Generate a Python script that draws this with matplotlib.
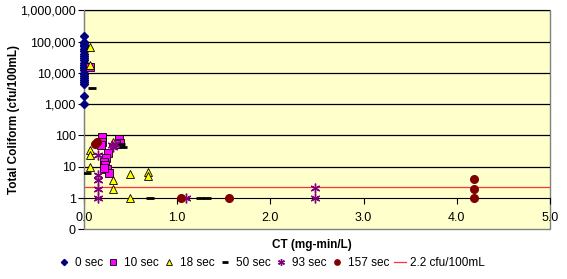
import numpy as np
import matplotlib.pyplot as plt

plt.rcParams['font.family'] = ['Liberation Sans', 'DejaVu Sans']

# 0 sec
ct_0 = [0, 0, 0, 0, 0, 0, 0, 0, 0, 0, 0, 0, 0, 0, 0, 0, 0, 0, 0, 0, 0, 0, 0, 0, 0]
tc_0 = [1000, 1800, 4500, 5000, 6000, 7000, 8000, 9000, 10000, 12000, 14000, 16000,
        18000, 20000, 25000, 30000, 35000, 40000, 50000, 60000, 70000, 80000, 90000,
        100000, 150000]
# 10 sec
ct_10 = [0.07, 0.196, 0.19, 0.18, 0.38, 0.386, 0.34, 0.26, 0.236, 0.22, 0.225, 0.25, 0.27, 0.22]
tc_10 = [15000, 87, 63, 49, 75, 56, 55, 27, 19, 14, 11, 8.3, 6.5, 9]
# 18 sec
ct_18 = [0.064, 0.07, 0.064, 0.064, 0.064, 0.31, 0.315, 0.315, 0.49, 0.49, 0.69, 0.69]
tc_18 = [68000, 18000, 34, 24, 10, 63, 3.8, 1.9, 5.8, 1, 6.9, 5.2]
# 50 sec
ct_50 = [0.09, 0.03, 0.40, 0.42, 0.71, 1.24, 1.32]
tc_50 = [3200, 6.5, 55, 42, 1, 1, 1]
# 93 sec
ct_93 = [0.154, 0.154, 0.154, 0.154, 0.154, 0.30, 0.31, 0.33, 1.10, 2.48, 2.48]
tc_93 = [24, 5.4, 3.8, 2, 1, 50, 42, 52, 1, 2.1, 1]
# 157 sec
ct_157 = [0.12, 0.14, 1.04, 1.56, 4.18, 4.18, 4.18]
tc_157 = [55, 60, 1, 1, 4, 2, 1]

limit = 2.2

y_ticks = [0.1, 1, 10, 100, 1000, 10000, 100000, 1000000]
y_labels = ['0', '1', '10', '100', '1,000', '10,000', '100,000', '1,000,000']
x_ticks = [0.0, 1.0, 2.0, 3.0, 4.0, 5.0]

fig = plt.figure(figsize=(5.67, 2.79), dpi=100)
ax = fig.add_axes([0.148, 0.178, 0.822, 0.785])
ax.set_facecolor('#FFFFCC')
ax.patch.set_edgecolor('#808080')
ax.patch.set_linewidth(1.0)

ax.set_yscale('log')
ax.set_ylim(0.1, 1000000)
ax.set_xlim(0, 5)

for g in [10, 100, 1000, 10000, 100000, 1000000]:
    ax.axhline(g, color='black', lw=0.9, zorder=1)

ax.axhline(limit, color='#FF3333', lw=0.9, zorder=2, label='2.2 cfu/100mL')

ax.plot(ct_0, tc_0, 'D', color='#000080', ms=4.5, ls='none', clip_on=False, zorder=5, label='0 sec')
ax.plot(ct_10, tc_10, 's', mfc='#FF00FF', mec='black', mew=0.6, ms=6, ls='none', zorder=5, label='10 sec')
ax.plot(ct_18, tc_18, '^', mfc='#FFFF00', mec='black', mew=0.6, ms=6, ls='none', zorder=5, label='18 sec')
ax.plot(ct_50, tc_50, '_', color='black', mew=2, ms=6, ls='none', zorder=5, label='50 sec')
ax.plot(ct_93, tc_93, marker=(6, 2, 0), color='#800080', mew=1, ms=7, ls='none', zorder=5, label='93 sec')
ax.plot(ct_157, tc_157, 'o', color='#800000', ms=5.5, ls='none', zorder=5, label='157 sec')

ax.spines['top'].set_visible(False)
ax.spines['right'].set_visible(False)
ax.spines['bottom'].set_position(('data', 1))
ax.spines['bottom'].set_color('black')
ax.spines['left'].set_color('#808080')

ax.set_yticks(y_ticks)
ax.set_yticklabels(y_labels)
ax.yaxis.set_minor_locator(plt.NullLocator())
ax.set_xticks(x_ticks)
ax.set_xticklabels(['%.1f' % v for v in x_ticks])
ax.tick_params(axis='both', labelsize=9, length=4, width=0.8, direction='out', pad=6)
ax.tick_params(axis='y', pad=2)

ax.set_ylabel('Total Coliform (cfu/100mL)', fontsize=8.5, fontweight='bold')
ax.yaxis.set_label_coords(-0.137, 0.5)
ax.set_xlabel('CT (mg-min/L)', fontsize=8.5, fontweight='bold')
ax.xaxis.set_label_coords(0.49, -0.045)

h, l = ax.get_legend_handles_labels()
order = [1, 2, 3, 4, 5, 6, 0]
fig.legend([h[i] for i in order], [l[i] for i in order], loc='center', bbox_to_anchor=(0.479, 0.057),
           ncol=7, frameon=False, fontsize=8.5, handlelength=1.0, handletextpad=0.4, columnspacing=0.4,
           markerscale=0.7)

fig.savefig('out.png', dpi=100)
